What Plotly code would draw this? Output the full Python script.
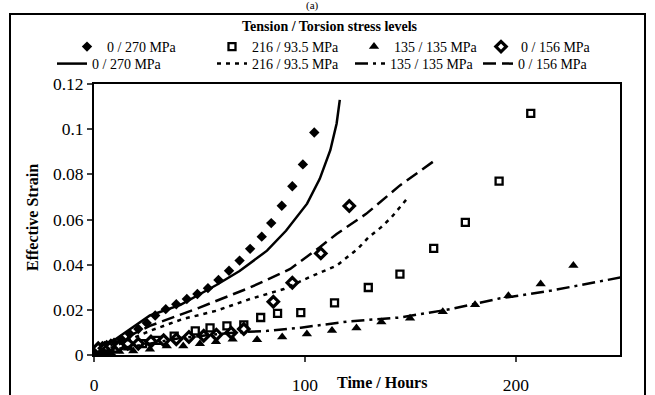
import plotly.graph_objects as go

# ---- data ----
t_270_pts = [0.5, 2, 4, 6, 8, 9.5, 13, 17, 21, 25, 29, 34, 39, 44, 49, 54, 59, 64, 69, 74, 79.5, 84, 89, 94, 99, 104.4]
e_270_pts = [0.002, 0.003, 0.004, 0.0045, 0.005, 0.0055, 0.007, 0.0093, 0.0115, 0.0142, 0.0175, 0.0203, 0.0225,
             0.0248, 0.027, 0.0296, 0.0332, 0.0373, 0.0418, 0.047, 0.0524, 0.0584, 0.0661, 0.0747, 0.0844, 0.0985]

t_216_pts = [5, 10, 16, 23, 30, 38, 48, 55, 63, 71, 79, 87, 98, 114, 130, 145, 161, 176, 192, 207]
e_216_pts = [0.002, 0.003, 0.004, 0.005, 0.0065, 0.0084, 0.0107, 0.012, 0.0129, 0.0133, 0.0166, 0.0184, 0.0188,
             0.0231, 0.0299, 0.0358, 0.0472, 0.0587, 0.077, 0.107]

t_135_pts = [3, 8, 12, 18.6, 26.5, 34.5, 42.3, 50.2, 57.8, 65.7, 77.3, 89.2, 100.9, 112.8, 124.4, 136.2, 149.8,
             165.3, 180.6, 196.4, 211.7, 227.2]
e_135_pts = [0.001, 0.001, 0.0015, 0.0018, 0.0025, 0.004, 0.004, 0.005, 0.0059, 0.007, 0.0068, 0.008, 0.0093,
             0.0108, 0.012, 0.0146, 0.0163, 0.0192, 0.0222, 0.0262, 0.0314, 0.0396]

t_156_pts = [2, 5, 8, 12, 16, 21, 27, 33, 39, 45, 52, 58, 65, 71, 85, 94, 107.5, 121]
e_156_pts = [0.003, 0.003, 0.004, 0.004, 0.005, 0.005, 0.006, 0.0065, 0.007, 0.008, 0.0085, 0.009, 0.0099,
             0.0115, 0.0236, 0.032, 0.045, 0.066]

t_270_fit = [0, 9, 26.5, 41, 58, 69, 82, 91, 101, 107, 112, 115, 116.5]
e_270_fit = [0, 0.0062, 0.0175, 0.0222, 0.031, 0.0372, 0.0462, 0.055, 0.067, 0.078, 0.0907, 0.1025, 0.113]

t_216_fit = [0, 10, 26.5, 42, 58, 74, 90, 102, 115, 125, 130, 136, 141, 149]
e_216_fit = [0, 0.004, 0.0107, 0.0159, 0.0196, 0.0248, 0.0292, 0.0344, 0.0396, 0.047, 0.052, 0.0565, 0.061, 0.0699]

t_135_fit = [0, 14, 25, 41, 66, 82, 98, 121, 145, 169, 192, 216, 250]
e_135_fit = [0, 0.0032, 0.0048, 0.0075, 0.0099, 0.0107, 0.0121, 0.0149, 0.0166, 0.0203, 0.025, 0.0284, 0.0344]

t_156_fit = [0, 9, 26.5, 50, 74, 93, 107, 115, 129, 145, 161.6]
e_156_fit = [0, 0.0049, 0.0129, 0.021, 0.0299, 0.0381, 0.0477, 0.0536, 0.0625, 0.0751, 0.0862]

labels = ["0 / 270 MPa", "216 / 93.5 MPa", "135 / 135 MPa", "0 / 156 MPa"]
y_ticks = [0, 0.02, 0.04, 0.06, 0.08, 0.1, 0.12]
x_ticks = [0, 100, 200]

# ---- layout geometry ----
W, H = 655, 395
L, R, T, B = 94, 35, 84, 40
pw, ph = W - L - R, H - T - B

def px(xp):
    return (xp - L) / pw

def py(yp):
    return (H - B - yp) / ph

FONT = "Liberation Serif"

fig = go.Figure()

fig.add_trace(go.Scatter(x=t_270_pts, y=e_270_pts, mode="markers", name=labels[0], legend="legend",
                         marker=dict(symbol="diamond", size=8, color="black")))
fig.add_trace(go.Scatter(x=t_216_pts, y=e_216_pts, mode="markers", name=labels[1], legend="legend2",
                         marker=dict(symbol="square", size=7, color="white",
                                     line=dict(color="black", width=2.3))))
fig.add_trace(go.Scatter(x=t_135_pts, y=e_135_pts, mode="markers", name=labels[2], legend="legend3",
                         marker=dict(symbol="triangle-up", size=9, color="black")))
fig.add_trace(go.Scatter(x=t_156_pts, y=e_156_pts, mode="markers", name=labels[3], legend="legend4",
                         marker=dict(symbol="diamond", size=8, color="white",
                                     line=dict(color="black", width=3.2))))

fig.add_trace(go.Scatter(x=t_270_fit, y=e_270_fit, mode="lines", name=labels[0], legend="legend5",
                         line=dict(color="black", width=2.5)))
fig.add_trace(go.Scatter(x=t_216_fit, y=e_216_fit, mode="lines", name=labels[1], legend="legend6",
                         line=dict(color="black", width=2.5, dash="4px,5px")))
fig.add_trace(go.Scatter(x=t_135_fit, y=e_135_fit, mode="lines", name=labels[2], legend="legend7",
                         line=dict(color="black", width=2.5, dash="13px,5px,3px,5px")))
fig.add_trace(go.Scatter(x=t_156_fit, y=e_156_fit, mode="lines", name=labels[3], legend="legend8",
                         line=dict(color="black", width=2.5, dash="13px,6px")))

row1_x = [67, 212, 354, 481]
row2_x = [52, 212, 350, 478]
ROW1_TOP, ROW2_TOP = 31, 48


def leg(xp, top):
    return dict(
        orientation="v", xref="container", yref="container",
        x=xp / W, y=1 - top / H, xanchor="left", yanchor="top",
        tracegroupgap=0, itemwidth=30,
        font=dict(family=FONT, size=14, color="black"),
        bgcolor="rgba(0,0,0,0)",
    )


legends = {}
for i in range(4):
    legends["legend" if i == 0 else f"legend{i + 1}"] = leg(row1_x[i], ROW1_TOP)
    legends[f"legend{i + 5}"] = leg(row2_x[i], ROW2_TOP)

fig.update_layout(
    width=W, height=H,
    margin=dict(l=L, r=R, t=T, b=B, autoexpand=False),
    paper_bgcolor="white", plot_bgcolor="white",
    font=dict(family=FONT, color="black", size=14),
    showlegend=True,
    xaxis=dict(range=[0, 249.3], tickvals=x_ticks, ticks="outside", ticklen=5, tickwidth=1.5,
               showline=True, linewidth=2, linecolor="black", mirror=True,
               showgrid=False, zeroline=False, ticklabelstandoff=8,
               tickfont=dict(family=FONT, size=17.5, color="black")),
    yaxis=dict(range=[0, 0.12], tickvals=y_ticks, ticks="outside", ticklen=5, tickwidth=1.5,
               showline=True, linewidth=2, linecolor="black", mirror=True,
               showgrid=False, zeroline=False,
               tickfont=dict(family=FONT, size=17.5, color="black")),
    **legends,
)

# legend heading
fig.add_annotation(text="<b>Tension / Torsion stress levels</b>", xref="paper", yref="paper",
                   x=px(330), y=py(27), xanchor="center", yanchor="middle", showarrow=False,
                   font=dict(family=FONT, size=14, color="black"))
# axis titles
fig.add_annotation(text="<b>Time / Hours</b>", xref="paper", yref="paper",
                   x=px(382), y=py(382), xanchor="center", yanchor="middle", showarrow=False,
                   font=dict(family=FONT, size=16, color="black"))
fig.add_annotation(text="<b>Effective Strain</b>", xref="paper", yref="paper",
                   x=px(32), y=py(218), xanchor="center", yanchor="middle", showarrow=False,
                   textangle=-90, font=dict(family=FONT, size=16, color="black"))
# panel label at the very top
fig.add_annotation(text="(a)", xref="paper", yref="paper",
                   x=px(312), y=py(6), xanchor="center", yanchor="middle", showarrow=False,
                   font=dict(family=FONT, size=11, color="black"))

# outer frame of the figure
fig.add_shape(type="rect", xref="paper", yref="paper",
              x0=px(10), x1=px(645), y0=py(405), y1=py(14),
              line=dict(color="black", width=2), fillcolor="rgba(0,0,0,0)", layer="below")

fig.write_html("out.html")
